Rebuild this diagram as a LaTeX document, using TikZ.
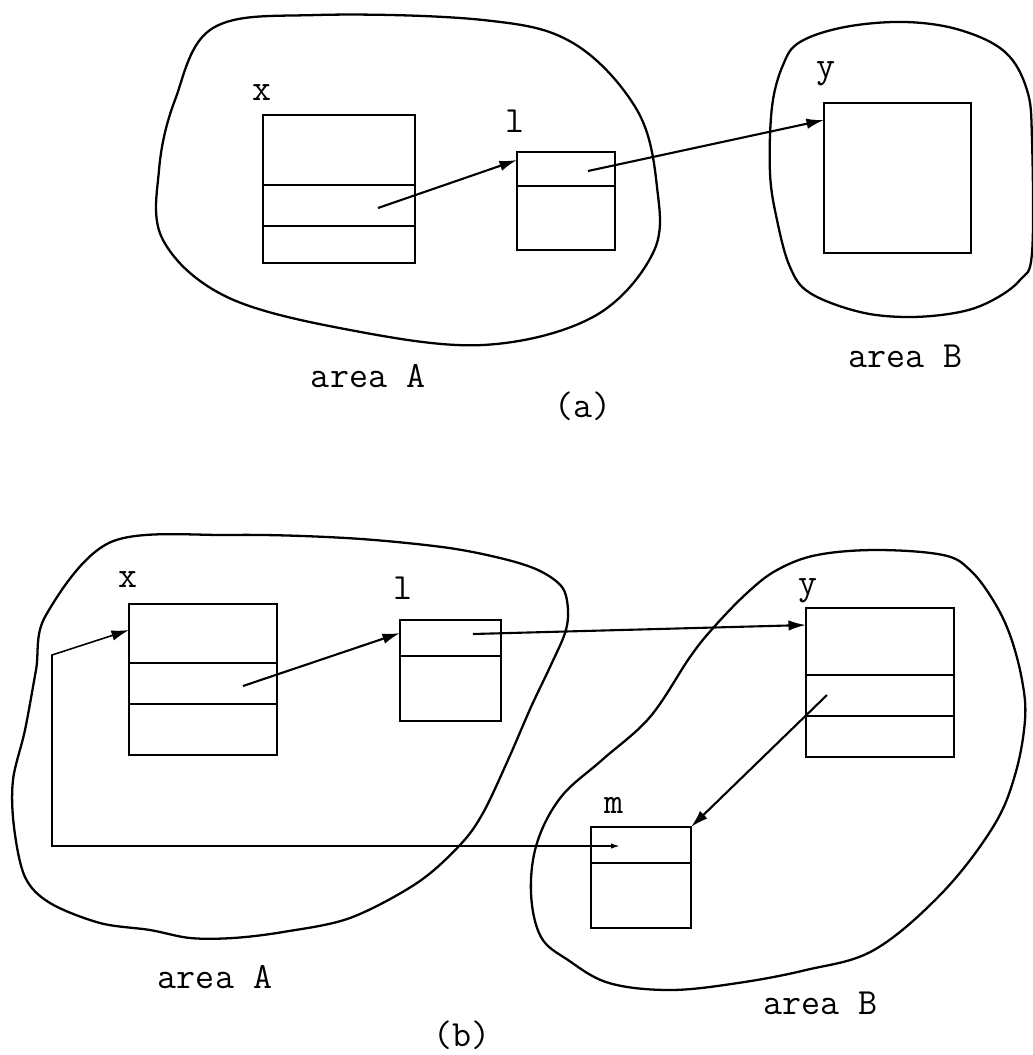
\documentclass[tikz,border=0pt]{standalone}
\usepackage{tikz}
\usetikzlibrary{arrows.meta}
\tikzstyle{cell} = [rectangle, draw, line width=1.4pt, inner sep=0pt, outer sep=0pt]
\tikzstyle{tag} = [font=\ttfamily\fontsize{21}{23}\selectfont, anchor=base, inner sep=0pt]
\tikzstyle{caption} = [font=\ttfamily\fontsize{21}{23}\selectfont]
\tikzstyle{area} = [draw, line width=1.3pt]
\tikzstyle{line} = [draw, line width=1.4pt]
\tikzstyle{arrow} = [draw, line width=1.2pt, -{Latex[length=10pt,width=6pt]}]
\tikzstyle{backarrow} = [draw, line width=0.9pt, {Latex[length=5pt,width=3pt]}-{Latex[length=10pt,width=6pt]}]

\begin{document}
\begin{tikzpicture}[x=0.02cm, y=-0.02cm]
			\useasboundingbox (0,0) rectangle (1033,1055);
			%
			% (a) before the move
			\draw [area] plot [smooth cycle, tension=0.6] coordinates {(213,28) (317,15) (483,20) (573,43) (637,110) (657,187) (653,253) (593,317) (483,345) (350,330) (227,297) (163,240) (159,170) (175,100)};
			\draw [area] plot [smooth cycle, tension=0.6] coordinates {(800,42) (845,27) (905,22) (960,30) (1005,52) (1027,90) (1032,140) (1032,253) (1020,280) (993,300) (960,312) (910,317) (860,312) (810,293) (790,267) (777,220) (770,173) (772,107) (783,65)};

			\node [cell, minimum width=3.04cm, minimum height=2.96cm] (xa) at (339,189) {};
			\node [cell, minimum width=1.96cm, minimum height=1.96cm] (la) at (566,201) {};
			\node [cell, minimum width=2.94cm, minimum height=3cm] (ya) at (897.5,178) {};
			\path [line] ([yshift=-1.4cm]xa.north west) -- ([yshift=-1.4cm]xa.north east);
			\path [line] ([yshift=-2.22cm]xa.north west) -- ([yshift=-2.22cm]xa.north east);
			\path [line] ([yshift=-0.68cm]la.north west) -- ([yshift=-0.68cm]la.north east);

			\node [tag] (xaname) at ([shift={(-1,-15)}]xa.north west) {x};
			\node [tag] (laname) at ([shift={(-2,-20)}]la.north west) {l};
			\node [tag] (yaname) at ([shift={(2,-26)}]ya.north west) {y};

			\node [caption] (areaAa) at (368,376) {area A};
			\node [caption] (areaBa) at (905,356) {area B};
			\node [caption] (capa) at (583,406) {(a)};

			\coordinate (xaptr) at (378,208);
			\coordinate (laptr) at (588,171);
			\path [arrow] (xaptr) -- ([yshift=-0.16cm]la.north west);
			\path [arrow] (laptr) -- ([yshift=-0.34cm]ya.north west);

			% (b) after the move
			\draw [area] plot [smooth cycle, tension=0.55] coordinates {(111,542) (231,535) (346,538) (442,547) (500,558) (538,570) (562,587) (568,610) (565,633) (550,667) (531,707) (508,760) (483,813) (460,845) (417,883) (350,918) (283,932) (233,938) (190,938) (150,930) (100,923) (50,903) (25,877) (14,827) (13,780) (25,730) (36,670) (46,615)};
			\draw [area] plot [smooth cycle, tension=0.6] coordinates {(714,627) (747,593) (777,570) (817,555) (877,550) (943,555) (970,570) (993,600) (1010,635) (1022,680) (1025,720) (1015,775) (993,827) (942,893) (874,950) (806,970) (738,983) (670,990) (609,983) (568,960) (541,937) (531,893) (537,843) (561,797) (602,760) (650,717) (690,657)};

			\node [cell, minimum width=2.96cm, minimum height=3.02cm] (xb) at (203,679.5) {};
			\node [cell, minimum width=2.02cm, minimum height=2.02cm] (lb) at (450.5,670.5) {};
			\node [cell, minimum width=2.96cm, minimum height=2.98cm] (yb) at (880,682.5) {};
			\node [cell, minimum width=2cm, minimum height=2.02cm] (mb) at (641,877.5) {};
			\path [line] ([yshift=-1.18cm]xb.north west) -- ([yshift=-1.18cm]xb.north east);
			\path [line] ([yshift=-2cm]xb.north west) -- ([yshift=-2cm]xb.north east);
			\path [line] ([yshift=-0.72cm]lb.north west) -- ([yshift=-0.72cm]lb.north east);
			\path [line] ([yshift=-1.34cm]yb.north west) -- ([yshift=-1.34cm]yb.north east);
			\path [line] ([yshift=-2.16cm]yb.north west) -- ([yshift=-2.16cm]yb.north east);
			\path [line] ([yshift=-0.72cm]mb.north west) -- ([yshift=-0.72cm]mb.north east);

			\node [tag] (xbname) at ([shift={(-1,-17)}]xb.north west) {x};
			\node [tag] (lbname) at ([shift={(3,-21)}]lb.north west) {l};
			\node [tag] (ybname) at ([shift={(2,-14)}]yb.north west) {y};
			\node [tag] (mbname) at ([shift={(23,-14)}]mb.north west) {m};

			\node [caption] (areaAb) at (215,977) {area A};
			\node [caption] (areaBb) at (820,1003) {area B};
			\node [caption] (capb) at (462,1035) {(b)};

			\coordinate (xbptr) at (243,686);
			\coordinate (lbptr) at (473,634);
			\coordinate (ybptr) at (827,695);
			\coordinate (mbptr) at (620,846);
			\coordinate (xbbend) at (52,655);
			\path [arrow] (xbptr) -- ([yshift=-0.26cm]lb.north west);
			\path [arrow] (lbptr) -- ([yshift=-0.34cm]yb.north west);
			\path [arrow] (ybptr) -- (mb.north east);
			\path [backarrow] (mbptr) -| (xbbend) -- ([yshift=-0.52cm]xb.north west);
%
\end{tikzpicture}
\end{document}
